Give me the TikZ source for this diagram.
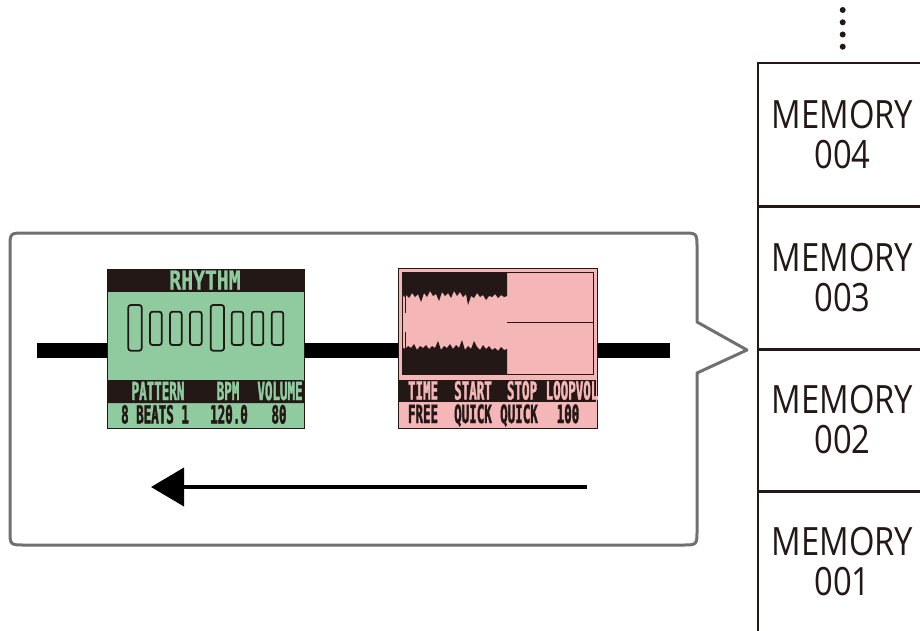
\documentclass[tikz,border=0pt]{standalone}
\usepackage{fontspec}
\setmainfont{Open Sans}
\newfontfamily\memfont[FakeStretch=0.84]{Open Sans}
\newfontfamily\lcdfont[FakeStretch=0.5,FakeBold=1.5]{DejaVu Sans Mono}
\newfontfamily\lcdtitlefont[FakeStretch=0.76,FakeBold=1]{DejaVu Sans Mono}
\usetikzlibrary{arrows.meta}
\definecolor{ink}{HTML}{231815}
\definecolor{lcdgreen}{HTML}{90CBA0}
\definecolor{lcdpink}{HTML}{F4B6B7}
\definecolor{calloutgray}{HTML}{707070}
\tikzset{
  memcell/.style={draw=ink, line width=2pt, minimum width=170pt, minimum height=143pt,
    inner sep=0pt, align=center, text=ink, font=\memfont\fontsize{39}{40}\selectfont},
  lcdlabel/.style={anchor=base, inner sep=0pt, font=\lcdfont\bfseries\fontsize{25}{25}\selectfont},
  lcdtitle/.style={anchor=base, inner sep=0pt, font=\lcdtitlefont\bfseries\fontsize{26}{26}\selectfont},
  beat/.style={draw=ink, line width=1.8pt, fill=lcdgreen, rounded corners=2.5pt},
  screenframe/.style={draw=ink, line width=1pt},
  callout/.style={draw=calloutgray, line width=3pt, line join=round},
  dot/.style={circle, fill=ink, inner sep=0pt, minimum size=6pt},
}
\begin{document}
\begin{tikzpicture}[x=1pt,y=-1pt]
\useasboundingbox (0,0) rectangle (920,631);

% callout box
\draw[callout] (25,233) -- (682,233) .. controls (697,233) .. (697,248)
  -- (697,322) -- (747,350) -- (697,373) -- (697,530)
  .. controls (697,545) .. (682,545) -- (25,545)
  .. controls (10,545) .. (10,530) -- (10,248)
  .. controls (10,233) .. (25,233) -- cycle;

% black bar
\fill[black] (37,343) rectangle (670,358);

% ---------- green rhythm screen ----------
\fill[lcdgreen] (107,269) rectangle (304,428);
\fill[ink] (107,269) rectangle (304,292);
\fill[ink] (107,403) -- (107,383) .. controls (107,380) .. (110,380) -- (301,380) .. controls (304,380) .. (304,383) -- (304,403) -- cycle;
\draw[screenframe] (107,269) rectangle (304,428);
\node[lcdtitle, text=lcdgreen] (gtitle) at (205,289.5) {RHYTHM};
\draw[beat] (128.3,305) rectangle (141.7,350.7);
\draw[beat] (150,311.7) rectangle (161.7,345);
\draw[beat] (170,311.7) rectangle (181.7,345);
\draw[beat] (190,311.7) rectangle (201.7,345);
\draw[beat] (210.7,305) rectangle (224,350.7);
\draw[beat] (231.7,311.7) rectangle (243.3,345);
\draw[beat] (251.7,311.7) rectangle (263.3,345);
\draw[beat] (271.7,311.7) rectangle (283.3,345);
\node[lcdlabel, text=lcdgreen] (gl1) at (158,400) {PATTERN};
\node[lcdlabel, text=lcdgreen] (gl2) at (228,400) {BPM};
\node[lcdlabel, text=lcdgreen] (gl3) at (280,400) {VOLUME};
\node[lcdlabel, text=ink] (gv1) at (155,423.5) {8 BEATS 1};
\node[lcdlabel, text=ink] (gv2) at (229,423.5) {120.0};
\node[lcdlabel, text=ink] (gv3) at (279,423.5) {80};

% ---------- pink looper screen ----------
\fill[lcdpink] (398,268) rectangle (597,428);
\draw[screenframe] (398,268) rectangle (597,428);
\fill[ink] (399,380) rectangle (596,402);
\draw[ink, line width=1pt] (402,272) rectangle (593,374);
% waveform
\fill[ink] (402,272) -- (507,272) -- (507,296) -- (504,297) -- (501,295) -- (498,298) -- (495,294)
  -- (492,297) -- (489,296) -- (486,300) -- (483,295) -- (480,297) -- (477,293) -- (474,298)
  -- (471,296) -- (468,305) -- (466,294) -- (463,297) -- (460,292) -- (457,296) -- (454,291)
  -- (451,298) -- (448,293) -- (445,296) -- (442,292) -- (439,301) -- (436,294) -- (433,296)
  -- (430,291) -- (427,297) -- (424,293) -- (421,302) -- (418,294) -- (415,297) -- (412,293)
  -- (409,298) -- (406,295) -- (404,297) -- (402,293) -- cycle;
\fill[ink] (402,374) -- (507,374) -- (507,349) -- (504,350) -- (501,347) -- (498,351) -- (495,348)
  -- (492,350) -- (489,346) -- (486,349) -- (483,345) -- (480,350) -- (477,347) -- (474,341)
  -- (471,349) -- (468,346) -- (465,350) -- (462,340) -- (459,348) -- (456,345) -- (453,349)
  -- (450,344) -- (447,348) -- (444,346) -- (441,350) -- (438,341) -- (435,348) -- (432,346)
  -- (429,349) -- (426,345) -- (423,348) -- (420,346) -- (417,350) -- (414,344) -- (411,348)
  -- (408,346) -- (405,349) -- (402,347) -- cycle;
\draw[ink, line width=1pt] (405.5,293) -- (405.5,313);
\draw[ink, line width=1pt] (405.5,332) -- (405.5,350);
\draw[ink, line width=1pt] (507,322) -- (593,322);
\node[lcdlabel, text=lcdpink] (pl1) at (423,399.5) {TIME};
\node[lcdlabel, text=lcdpink] (pl2) at (473,399.5) {START};
\node[lcdlabel, text=lcdpink] (pl3) at (522,399.5) {STOP};
\node[lcdlabel, text=lcdpink] (pl4) at (572,399.5) {LOOPVOL};
\node[lcdlabel, text=ink] (pv1) at (423,423) {FREE};
\node[lcdlabel, text=ink] (pv2) at (473,423) {QUICK};
\node[lcdlabel, text=ink] (pv3) at (519,423) {QUICK};
\node[lcdlabel, text=ink] (pv4) at (568,423) {100};

% arrow
\coordinate (arrS) at (587,487);
\coordinate (arrE) at (151,487);
\draw[line width=4pt, -{Triangle[length=33pt,width=38pt]}] (arrS) -- (arrE);

% ---------- memory column ----------
\node[memcell] (m4) at (842.5,134.5) {MEMORY\\004};
\node[memcell] (m3) at (842.5,278) {MEMORY\\003};
\node[memcell] (m2) at (842.5,420) {MEMORY\\002};
\node[memcell] (m1) at (842.5,562) {MEMORY\\001};
\node[dot] (d1) at (842.7,10) {};
\node[dot] (d2) at (842.7,22.3) {};
\node[dot] (d3) at (842.7,34.5) {};
\node[dot] (d4) at (842.7,46.7) {};
\end{tikzpicture}
\end{document}
